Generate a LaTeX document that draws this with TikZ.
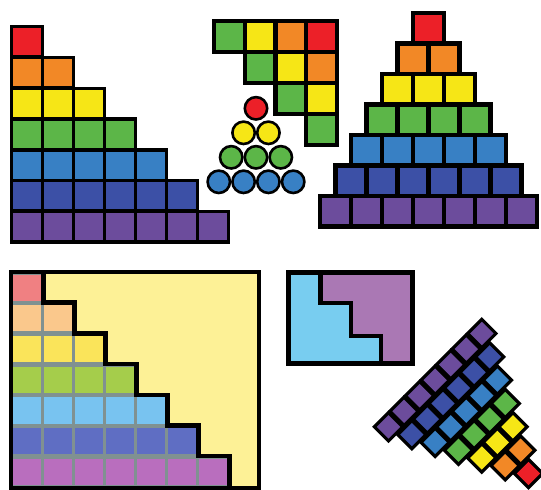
\documentclass[tikz,border=0pt]{standalone}
\definecolor{cR}{RGB}{236,32,40}
\definecolor{cO}{RGB}{242,136,38}
\definecolor{cY}{RGB}{246,230,22}
\definecolor{cG}{RGB}{92,182,72}
\definecolor{cB}{RGB}{56,128,196}
\definecolor{cI}{RGB}{60,80,166}
\definecolor{cP}{RGB}{108,76,156}
\definecolor{pR}{RGB}{240,128,130}
\definecolor{pO}{RGB}{250,200,140}
\definecolor{pY}{RGB}{250,228,90}
\definecolor{pG}{RGB}{165,205,75}
\definecolor{pB}{RGB}{120,195,240}
\definecolor{pI}{RGB}{95,110,195}
\definecolor{pP}{RGB}{185,110,190}
\definecolor{gapgray}{RGB}{128,145,145}
\definecolor{bgY}{RGB}{253,241,150}
\definecolor{mBlue}{RGB}{120,205,240}
\definecolor{mPurple}{RGB}{170,120,180}
\colorlet{tmc0}{cG}
\colorlet{tmc1}{cY}
\colorlet{tmc2}{cO}
\colorlet{tmc3}{cR}
\tikzset{edgeline/.style={line width=4.5pt, line join=miter}}
\begin{document}
\begin{tikzpicture}[x=1pt,y=-1pt]
\useasboundingbox (0,0) rectangle (541,490);

% ---------- top-left staircase ----------
\foreach \r/\col in {0/cR,1/cO,2/cY,3/cG,4/cB,5/cI,6/cP}{
  \foreach \c in {0,...,\r}{
    \fill[black] ({13.3+31*\c-3.4},{28.3+30.8*\r-3.4}) rectangle ++(34.3,33.8);
  }}
\foreach \r/\col in {0/cR,1/cO,2/cY,3/cG,4/cB,5/cI,6/cP}{
  \foreach \c in {0,...,\r}{
    \fill[\col] ({13.3+31*\c},{28.3+30.8*\r}) rectangle ++(27.5,27);
  }}

% ---------- top-middle inverted staircase ----------
\foreach \r in {0,...,3}{
  \foreach \c in {\r,...,3}{
    \fill[black] ({216+30.8*\c-4.3},{23.3+30.9*\r-4.3}) rectangle ++(35.1,35.1);
  }}
\foreach \r in {0,...,3}{
  \foreach \c in {\r,...,3}{
    \pgfmathtruncatemacro\d{\c-\r}
    \fill[tmc\d] ({216+30.8*\c},{23.3+30.9*\r}) rectangle ++(26.5,26.5);
  }}

% ---------- circles ----------
\foreach \k/\col in {0/cR,1/cY,2/cG,3/cB}{
  \foreach \i in {0,...,\k}{
    \filldraw[fill=\col, draw=black, line width=2.6pt]
      ({256-12.4*\k+24.8*\i},{108.3+24.5*\k}) circle (11.2);
  }}

% ---------- pyramid ----------
\foreach \r/\col in {0/cR,1/cO,2/cY,3/cG,4/cB,5/cI,6/cP}{
  \foreach \i in {0,...,\r}{
    \fill[black] ({322.3+(6-\r)*15.5+31*\i-4.5},{15+30.55*\r-4.5}) rectangle ++(35.5,35);
  }}
\foreach \r/\col in {0/cR,1/cO,2/cY,3/cG,4/cB,5/cI,6/cP}{
  \foreach \i in {0,...,\r}{
    \fill[\col] ({322.3+(6-\r)*15.5+31*\i},{15+30.55*\r}) rectangle ++(26.5,26);
  }}

% ---------- bottom-left square ----------
\fill[bgY] (11,272) rectangle (259,488);
\fill[gapgray] (11,272) -- (43.3,272) -- (43.3,302.7) -- (74.3,302.7) -- (74.3,333.4)
  -- (105.3,333.4) -- (105.3,364.1) -- (136.3,364.1) -- (136.3,394.8) -- (167.3,394.8)
  -- (167.3,425.5) -- (198.3,425.5) -- (198.3,456.2) -- (229.3,456.2) -- (229.3,488)
  -- (11,488) -- cycle;
\foreach \r/\col in {0/pR,1/pO,2/pY,3/pG,4/pB,5/pI,6/pP}{
  \foreach \c in {0,...,\r}{
    \fill[\col] ({13.3+31*\c},{274.5+30.7*\r}) rectangle ++(27.6,26.2);
  }}
\draw[edgeline] (43.3,272) -- (43.3,302.7) -- (74.3,302.7) -- (74.3,333.4)
  -- (105.3,333.4) -- (105.3,364.1) -- (136.3,364.1) -- (136.3,394.8) -- (167.3,394.8)
  -- (167.3,425.5) -- (198.3,425.5) -- (198.3,456.2) -- (229.3,456.2) -- (229.3,488);
\draw[edgeline] (11,272) rectangle (259,488);

% ---------- bottom-middle rectangle ----------
\fill[mBlue] (288.5,272.5) rectangle (412.5,363.5);
\fill[mPurple] (320.3,272.5) -- (320.3,302.8) -- (351.2,302.8) -- (351.2,336.2)
  -- (381.2,336.2) -- (381.2,363.5) -- (412.5,363.5) -- (412.5,272.5) -- cycle;
\draw[edgeline] (320.3,272.5) -- (320.3,302.8) -- (351.2,302.8) -- (351.2,336.2)
  -- (381.2,336.2) -- (381.2,363.5);
\draw[edgeline, line width=5pt] (288.5,272.5) rectangle (412.5,363.5);

% ---------- rotated pyramid ----------
\begin{scope}[shift={(528.5,473.5)}, rotate=-135]
\foreach \r/\col in {0/cR,1/cO,2/cY,3/cG,4/cB,5/cI,6/cP}{
  \foreach \i in {0,...,\r}{
    \fill[black] ({(\i-\r/2)*22-11.6},{\r*22-11.6}) rectangle ++(23.2,23.2);
  }}
\foreach \r/\col in {0/cR,1/cO,2/cY,3/cG,4/cB,5/cI,6/cP}{
  \foreach \i in {0,...,\r}{
    \fill[\col] ({(\i-\r/2)*22-8.25},{\r*22-8.25}) rectangle ++(16.5,16.5);
  }}
\end{scope}
\end{tikzpicture}
\end{document}
